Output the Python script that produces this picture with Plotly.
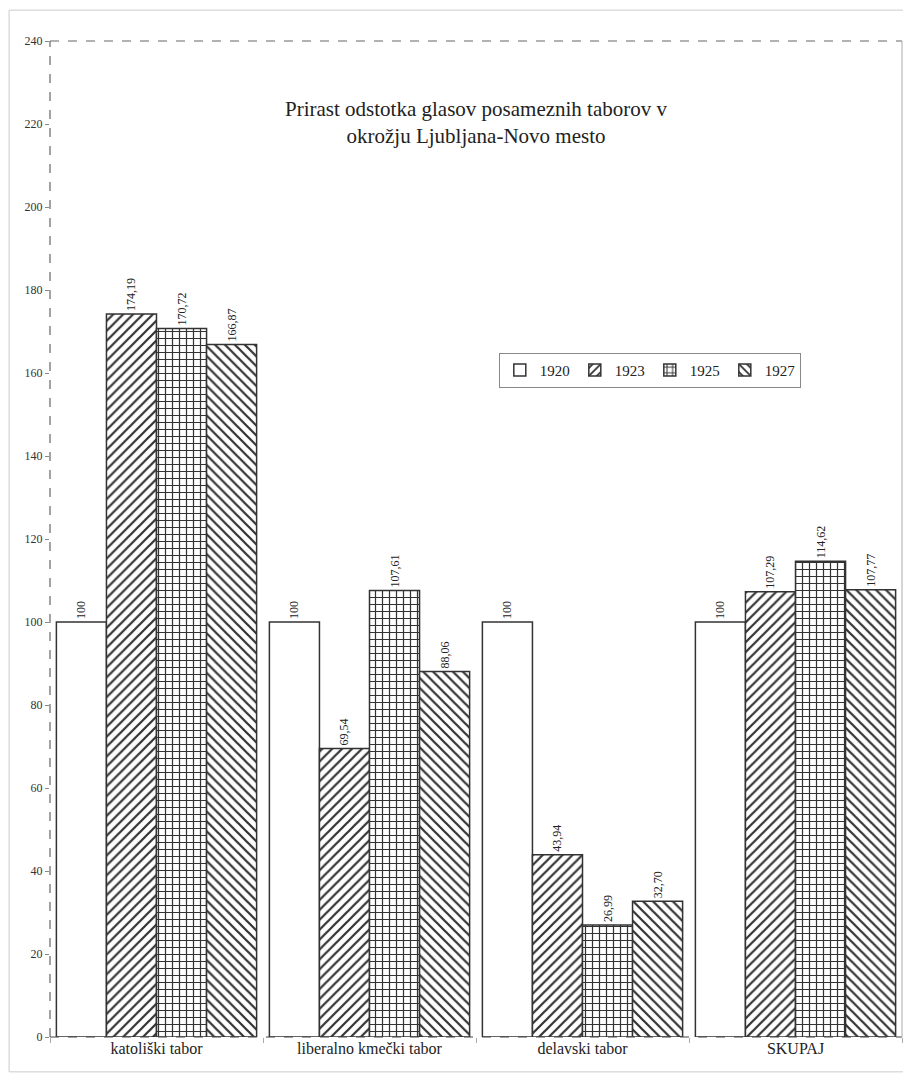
import plotly.graph_objects as go

categories = ["katoliški tabor", "liberalno kmečki tabor", "delavski tabor", "SKUPAJ"]
years = ["1920", "1923", "1925", "1927"]
v1920 = [100, 100, 100, 100]
v1923 = [174.19, 69.54, 43.94, 107.29]
v1925 = [170.72, 107.61, 26.99, 114.62]
v1927 = [166.87, 88.06, 32.70, 107.77]
lbl1920 = ["100", "100", "100", "100"]
lbl1923 = ["174,19", "69,54", "43,94", "107,29"]
lbl1925 = ["170,72", "107,61", "26,99", "114,62"]
lbl1927 = ["166,87", "88,06", "32,70", "107,77"]

series = [(years[0], v1920, lbl1920, ""), (years[1], v1923, lbl1923, "/"),
          (years[2], v1925, lbl1925, "+"), (years[3], v1927, lbl1927, "\\")]

FONT = "Liberation Serif"
fig = go.Figure()
for name, vals, lbls, shape in series:
    fig.add_trace(go.Bar(
        x=categories, y=vals, name=name, text=lbls,
        textposition="outside", textangle=-90,
        textfont=dict(family=FONT, size=12, color="#222"),
        cliponaxis=False,
        marker=dict(color="white", line=dict(color="#333", width=1.5),
                    pattern=dict(shape=shape, fgcolor="#333", bgcolor="white",
                                 size=7, solidity=0.32, fillmode="replace")),
    ))

fig.update_layout(
    width=903, height=1074,
    margin=dict(l=50, r=1, t=41, b=37),
    paper_bgcolor="white", plot_bgcolor="white",
    barmode="group", bargap=0.06, bargroupgap=0,
    font=dict(family=FONT, color="#222"),
    showlegend=True,
    legend=dict(orientation="h", x=0.704, y=0.687, xanchor="center", yanchor="top",
                bordercolor="#888", borderwidth=1, font=dict(family=FONT, size=15),
                itemwidth=30, bgcolor="white", entrywidth=30, tracegroupgap=0),
)
fig.update_yaxes(range=[0, 240], dtick=20, showgrid=False, zeroline=False,
                 ticks="outside", ticklen=4, tickcolor="#888",
                 tickfont=dict(family=FONT, size=12, color="#333"), showline=False)
fig.update_xaxes(showgrid=False, ticks="outside", tickson="boundaries", ticklen=5,
                 tickcolor="#aaa", tickfont=dict(family=FONT, size=16, color="#222"),
                 showline=False)

fig.add_annotation(text="Prirast odstotka glasov posameznih taborov v<br>okrožju Ljubljana-Novo mesto",
                   xref="paper", yref="paper", x=0.5, y=0.918, yanchor="middle", showarrow=False,
                   font=dict(family=FONT, size=21, color="#222"))

# frame lines
fig.add_shape(type="line", xref="paper", yref="paper", x0=0, x1=1, y0=1, y1=1,
              line=dict(color="#666", width=1.2, dash="dash"))
fig.add_shape(type="line", xref="paper", yref="paper", x0=0, x1=0, y0=0, y1=1,
              line=dict(color="#666", width=1.2, dash="dash"))
fig.add_shape(type="line", xref="paper", yref="paper", x0=0, x1=1, y0=0, y1=0,
              line=dict(color="#444", width=1.2, dash="dash"))
fig.add_shape(type="line", xref="paper", yref="paper", x0=1, x1=1, y0=0, y1=1,
              line=dict(color="#aaa", width=1))
fig.add_shape(type="rect", xref="paper", yref="paper", x0=-0.048, x1=1.01, y0=-0.035, y1=1.031,
              line=dict(color="#ccc", width=1), layer="below")

fig.write_html("out.html", config={"displayModeBar": False},
               post_script="document.body.style.margin='0';document.body.style.overflow='hidden';")
